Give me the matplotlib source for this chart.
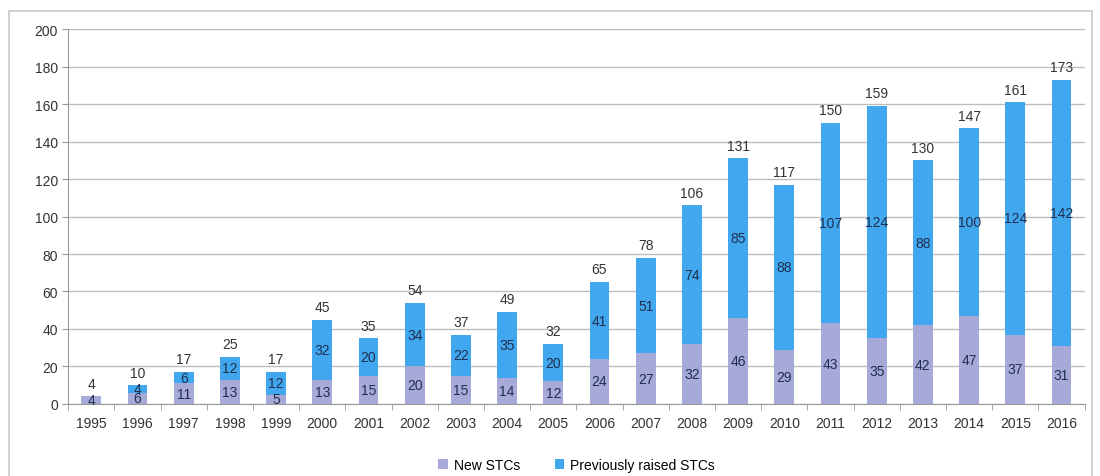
import numpy as np
import matplotlib
matplotlib.use("Agg")
import matplotlib.pyplot as plt
from matplotlib.patches import Rectangle

years = [str(y) for y in range(1995, 2017)]
new_stcs = [4, 6, 11, 13, 5, 13, 15, 20, 15, 14, 12, 24, 27, 32, 46, 29, 43, 35, 42, 47, 37, 31]
prev_stcs = [0, 4, 6, 12, 12, 32, 20, 34, 22, 35, 20, 41, 51, 74, 85, 88, 107, 124, 88, 100, 124, 142]

c_new = "#a7a9d8"
c_prev = "#41a8f0"

plt.rcParams['font.family'] = ['Liberation Sans', 'DejaVu Sans']

fig = plt.figure(figsize=(11, 4.77), dpi=100)
ax = fig.add_axes([0.062, 0.151, 0.924, 0.786])

# outer frame like the pasted chart
fig.patches.append(Rectangle((0.008, -0.01), 0.985, 0.985, transform=fig.transFigure,
                             fill=False, edgecolor="#c8c8c8", linewidth=1.2))

x = np.arange(len(years))
w = 0.43
total = [a + b for a, b in zip(new_stcs, prev_stcs)]
ax.bar(x, new_stcs, w, color=c_new, label="New STCs", zorder=2)
ax.bar(x, prev_stcs, w, bottom=new_stcs, color=c_prev, label="Previously raised STCs", zorder=2)

fs = 10
for i in range(len(years)):
    ax.text(x[i], new_stcs[i] / 2, str(new_stcs[i]), ha="center", va="center",
            fontsize=fs, color="#1f2f4f", zorder=3)
    if prev_stcs[i] > 0:
        ax.text(x[i], new_stcs[i] + prev_stcs[i] / 2, str(prev_stcs[i]), ha="center", va="center",
                fontsize=fs, color="#1f2f4f", zorder=3)
    ax.text(x[i], total[i] + 3, str(total[i]), ha="center", va="bottom",
            fontsize=fs, color="#333333", zorder=3)

ax.set_xlim(-0.5, len(years) - 0.5)
ax.set_ylim(0, 200)
ax.set_yticks(range(0, 201, 20))
ax.yaxis.grid(True, color="#bdbdbd", linewidth=1, zorder=0)
ax.set_axisbelow(True)
ax.set_xticks(x)
ax.set_xticklabels(years, fontsize=fs, color="#333333")
ax.set_xticks(np.arange(-0.5, len(years), 1), minor=True)
ax.tick_params(axis="x", which="major", length=0, pad=9)
ax.tick_params(axis="x", which="minor", length=4, color="#999999")
ax.tick_params(axis="y", length=4, color="#999999", labelsize=fs, labelcolor="#333333")
for s in ["top", "right"]:
    ax.spines[s].set_visible(False)
ax.spines["left"].set_color("#999999")
ax.spines["bottom"].set_color("#999999")

ax.legend(loc="upper center", bbox_to_anchor=(0.5, -0.11), ncol=2, frameon=False,
          fontsize=fs, handlelength=0.7, handleheight=0.7, columnspacing=2.5, handletextpad=0.4)

fig.savefig("out.png", dpi=100)
